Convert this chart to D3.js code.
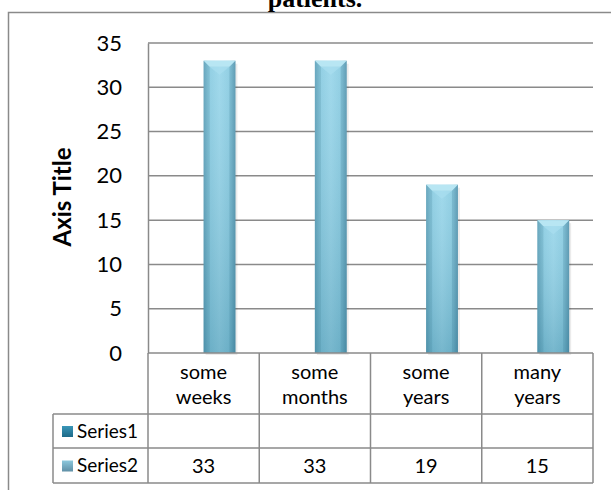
<!DOCTYPE html>
<html><head><meta charset="utf-8">
<script src="https://cdn.jsdelivr.net/npm/d3@7"></script>
<style>body{margin:0;background:#fff}svg{display:block}</style>
</head><body>
<script>
const categories = [["some","weeks"],["some","months"],["some","years"],["many","years"]];
const seriesNames = ["Series1","Series2"];
const series1 = [null, null, null, null];
const series2 = [33, 33, 19, 15];
const yTicks = [0,5,10,15,20,25,30,35];
const title = "patients.";
const axisTitle = "Axis Title";

const W = 611, H = 490;
const font = "Lato, 'Open Sans', sans-serif";
const grey = "#8a8a8a";
const svg = d3.select("body").append("svg").attr("width", W).attr("height", H);
const defs = svg.append("defs");

const gBar = defs.append("linearGradient").attr("id","barH").attr("x1","0").attr("x2","1").attr("y1","0").attr("y2","0");
[[0,"#62a8c2"],[0.15,"#82c8df"],[0.5,"#94d4e9"],[0.85,"#82c8df"],[1,"#5a9db7"]].forEach(([o,c])=>gBar.append("stop").attr("offset",o).attr("stop-color",c));
const gV = defs.append("linearGradient").attr("id","barV").attr("x1","0").attr("x2","0").attr("y1","0").attr("y2","1");
gV.append("stop").attr("offset",0).attr("stop-color","#ffffff").attr("stop-opacity",0.12);
gV.append("stop").attr("offset",1).attr("stop-color","#1f5f78").attr("stop-opacity",0.25);
const gL1 = defs.append("linearGradient").attr("id","leg1").attr("x1","0").attr("x2","0").attr("y1","0").attr("y2","1");
gL1.append("stop").attr("offset",0).attr("stop-color","#3a96b8");
gL1.append("stop").attr("offset",1).attr("stop-color","#1d6a88");
const gL2 = defs.append("linearGradient").attr("id","leg2").attr("x1","0").attr("x2","0").attr("y1","0").attr("y2","1");
gL2.append("stop").attr("offset",0).attr("stop-color","#8cc8dd");
gL2.append("stop").attr("offset",1).attr("stop-color","#5f8fa6");

// outer frame
svg.append("path").attr("d", `M8.5,${H} V12.5 H${W}`).attr("fill","none").attr("stroke",grey).attr("stroke-width",1.5);

// title (partially clipped at top, as in the reference)
svg.append("text").attr("x", 315).attr("y", 7).attr("text-anchor","middle")
  .attr("font-family","'Liberation Serif','Times New Roman',serif").attr("font-weight","bold")
  .attr("font-size",26).attr("fill","#000").text(title);

const pLeft = 148, pRight = 593, pTop = 43, pBottom = 353;
const y = d3.scaleLinear().domain([0,35]).range([pBottom, pTop]);
const x = d3.scaleBand().domain(d3.range(categories.length)).range([pLeft, pRight]).padding(0);
const x1 = d3.scaleBand().domain(seriesNames).range([0, x.bandwidth()]).paddingInner(0).paddingOuter(0.75);

svg.append("g").selectAll("line").data(yTicks.filter(t=>t>0)).join("line")
  .attr("x1", pLeft).attr("x2", pRight).attr("y1", d=>y(d)).attr("y2", d=>y(d))
  .attr("stroke", grey).attr("stroke-width", 1.5);

const yAxis = svg.append("g").attr("transform", `translate(${pLeft},0)`)
  .call(d3.axisLeft(y).tickValues(yTicks).tickSize(0).tickPadding(26));
yAxis.select(".domain").attr("stroke", grey).attr("stroke-width",1.5);
yAxis.selectAll("text").attr("font-family", font).attr("font-size", 22).attr("fill","#000");

svg.append("text").attr("transform", `translate(71,197) rotate(-90)`).attr("text-anchor","middle")
  .attr("font-family", font).attr("font-weight","bold").attr("font-size",24).attr("fill","#000").text(axisTitle);

const bars = svg.append("g");
const bw = x1.bandwidth();
series2.forEach((v,i)=>{
  if (v == null) return;
  const bx = x(i) + x1("Series2");
  const by = y(v);
  const h = y(0) - by;
  bars.append("rect").attr("x", bx+2).attr("y", by+3).attr("width", bw).attr("height", h-1)
    .attr("fill","#000").attr("opacity",0.08);
  bars.append("rect").attr("x", bx).attr("y", by).attr("width", bw).attr("height", h).attr("fill","url(#barH)");
  bars.append("rect").attr("x", bx).attr("y", by).attr("width", bw).attr("height", h).attr("fill","url(#barV)");
  const bev = 6;
  bars.append("path").attr("d", `M${bx},${by} L${bx+bw},${by} L${bx+bw-bev},${by+bev} L${bx+bev},${by+bev} Z`).attr("fill","#b8e6f3");
  bars.append("path").attr("d", `M${bx+bev},${by+bev} L${bx+bw-bev},${by+bev} L${bx+bw/2},${by+bev+8} Z`).attr("fill","#a9def0").attr("opacity",0.7);
  bars.append("path").attr("d", `M${bx},${by} L${bx+bev},${by+bev} L${bx+bev},${by+h} L${bx},${by+h} Z`).attr("fill","#3f7f98").attr("opacity",0.22);
  bars.append("path").attr("d", `M${bx+bw},${by} L${bx+bw-bev},${by+bev} L${bx+bw-bev},${by+h} L${bx+bw},${by+h} Z`).attr("fill","#3f7f98").attr("opacity",0.27);
});

const rowTops = [353, 414, 448, 483];
const tLeft = 53;
const tbl = svg.append("g").attr("stroke", grey).attr("stroke-width",1.5).attr("fill","none");
tbl.append("line").attr("x1", pLeft).attr("x2", pRight).attr("y1", pBottom).attr("y2", pBottom);
[414,448,483].forEach(yy=>tbl.append("line").attr("x1", tLeft).attr("x2", pRight).attr("y1", yy).attr("y2", yy));
tbl.append("line").attr("x1", tLeft).attr("x2", tLeft).attr("y1", 414).attr("y2", 483);
d3.range(categories.length+1).forEach(i=>{
  const xx = i < categories.length ? x(i) : pRight;
  tbl.append("line").attr("x1", xx).attr("x2", xx).attr("y1", pBottom).attr("y2", 483);
});

categories.forEach((c,i)=>{
  const cx = x(i) + x.bandwidth()/2;
  c.forEach((line,j)=>{
    svg.append("text").attr("x", cx).attr("y", 372 + j*25).attr("dy","0.35em").attr("text-anchor","middle")
      .attr("font-family", font).attr("font-size",20).attr("fill","#000").text(line);
  });
});

[[series1,"url(#leg1)"],[series2,"url(#leg2)"]].forEach(([vals,fill],r)=>{
  const cy = (rowTops[r+1] + rowTops[r+2])/2;
  svg.append("rect").attr("x", 62).attr("y", cy-5).attr("width", 11).attr("height", 11).attr("fill", fill);
  svg.append("text").attr("x", 77).attr("y", cy).attr("dy","0.35em").attr("font-family", font).attr("font-size",19)
    .attr("fill","#000").text(seriesNames[r]);
  vals.forEach((v,i)=>{
    if (v == null) return;
    svg.append("text").attr("x", x(i)+x.bandwidth()/2).attr("y", cy).attr("dy","0.35em").attr("text-anchor","middle")
      .attr("font-family", font).attr("font-size",20).attr("fill","#000").text(v);
  });
});
</script>
</body></html>
